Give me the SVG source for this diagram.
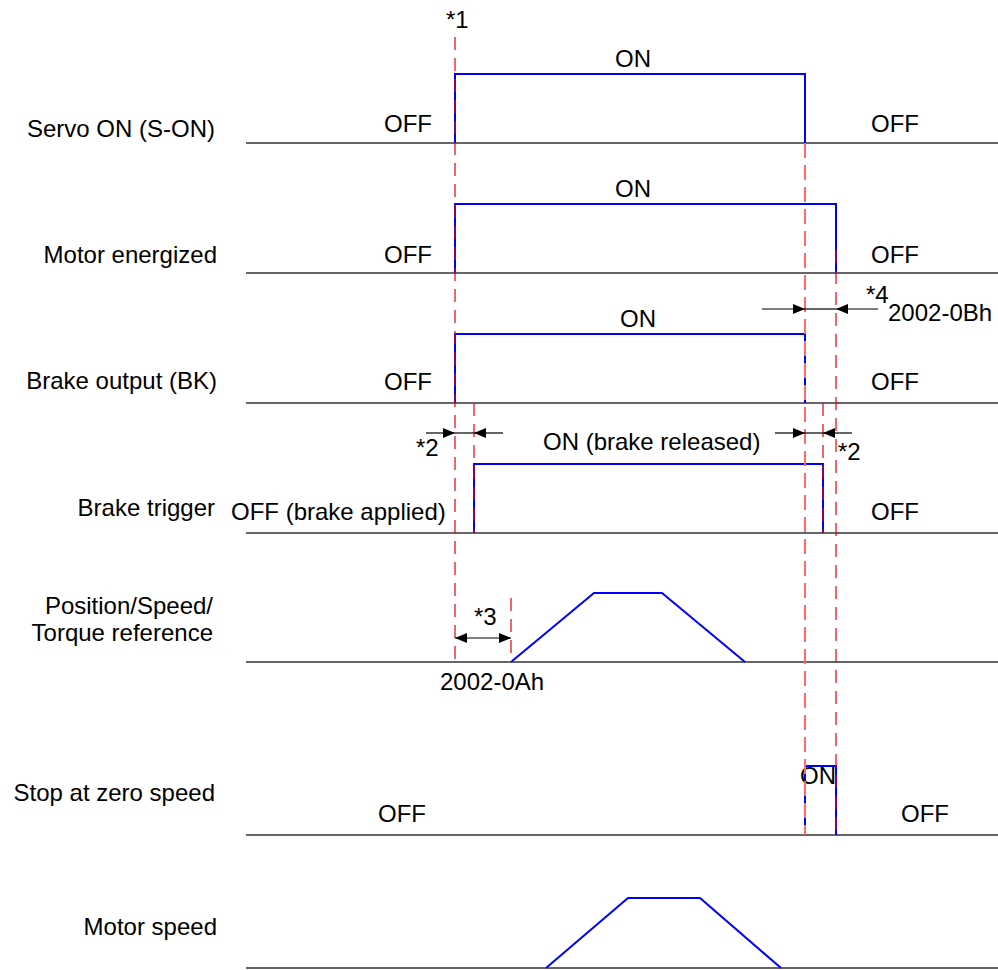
<svg xmlns="http://www.w3.org/2000/svg" width="998" height="970" viewBox="0 0 998 970">
<style>
text{font-family:"Liberation Sans",Arial,sans-serif;font-size:24px;fill:#000}
.lbl{text-anchor:end}
.mid{text-anchor:middle}
.base{stroke:#333;stroke-width:1.5;fill:none}
.sig{stroke:#0000ff;stroke-width:2;fill:none}
.dr{stroke:#e8000b;stroke-width:1.2;stroke-dasharray:13 8;fill:none}
.dp{stroke:#ff6b6b;stroke-width:2;stroke-dasharray:15 7;fill:none}
.arr{stroke:#000;stroke-width:1.2;fill:none}
</style>
<defs>
<marker id="ah" viewBox="0 0 12 10" refX="12" refY="5" markerWidth="12" markerHeight="10" markerUnits="userSpaceOnUse" orient="auto-start-reverse">
<path d="M0,0 L12,5 L0,10 Z" fill="#000"/>
</marker>
</defs>
<rect width="998" height="970" fill="#fff"/>

<g id="servo-on">
<text class="lbl" x="215" y="137">Servo ON (S-ON)</text>
<line class="base" x1="246" y1="143" x2="998" y2="143"/>
<polyline class="sig" points="455,143 455,74 805,74 805,143"/>
<text x="384" y="132">OFF</text>
<text class="mid" x="633" y="67">ON</text>
<text x="871" y="132">OFF</text>
</g>

<g id="motor-energized">
<text class="lbl" x="217" y="263">Motor energized</text>
<line class="base" x1="246" y1="273" x2="998" y2="273"/>
<polyline class="sig" points="455,273 455,204 836,204 836,273"/>
<text x="384" y="263">OFF</text>
<text class="mid" x="633" y="197">ON</text>
<text x="871" y="263">OFF</text>
</g>

<g id="brake-output">
<text class="lbl" x="217" y="389">Brake output (BK)</text>
<line class="base" x1="246" y1="403" x2="998" y2="403"/>
<polyline class="sig" points="455,403 455,334 805,334 805,403"/>
<text x="384" y="390">OFF</text>
<text class="mid" x="638" y="327">ON</text>
<text x="871" y="390">OFF</text>
</g>

<g id="brake-trigger">
<text class="lbl" x="215" y="516">Brake trigger</text>
<line class="base" x1="246" y1="533" x2="998" y2="533"/>
<polyline class="sig" points="474,533 474,464 823,464 823,533"/>
<text x="231" y="520">OFF (brake applied)</text>
<text x="543" y="450">ON (brake released)</text>
<text x="871" y="520">OFF</text>
</g>

<g id="reference">
<text class="lbl" x="213" y="614">Position/Speed/</text>
<text class="lbl" x="213" y="641">Torque reference</text>
<line class="base" x1="246" y1="662" x2="998" y2="662"/>
<polyline class="sig" points="511,662 594,593 662,593 745,662"/>
</g>

<g id="stop-zero-speed">
<text class="lbl" x="215" y="801">Stop at zero speed</text>
<line class="base" x1="246" y1="835" x2="998" y2="835"/>
<polyline class="sig" points="805,835 805,766 836,766 836,835"/>
<text x="800" y="784">ON</text>
<text x="378" y="822">OFF</text>
<text x="901" y="822">OFF</text>
</g>

<g id="motor-speed">
<text class="lbl" x="217" y="935">Motor speed</text>
<line class="base" x1="246" y1="968" x2="998" y2="968"/>
<polyline class="sig" points="546,968 628,898 700,898 781,968"/>
</g>

<g id="connectors">
<line class="dr" x1="455" y1="37" x2="455" y2="665"/>
<line class="dr" x1="474" y1="403" x2="474" y2="533"/>
<line class="dr" x1="511" y1="598" x2="511" y2="662"/>
<line class="dp" x1="805" y1="143" x2="805" y2="835"/>
<line class="dr" x1="823" y1="403" x2="823" y2="533"/>
<line class="dr" x1="836" y1="250" x2="836" y2="835"/>

<line class="arr" x1="762" y1="309" x2="805" y2="309" marker-end="url(#ah)"/>
<line class="arr" x1="805" y1="309" x2="836" y2="309"/>
<line class="arr" x1="878" y1="309" x2="836" y2="309" marker-end="url(#ah)"/>

<line class="arr" x1="426" y1="433" x2="455" y2="433" marker-end="url(#ah)"/>
<line class="arr" x1="455" y1="433" x2="474" y2="433"/>
<line class="arr" x1="503" y1="433" x2="474" y2="433" marker-end="url(#ah)"/>

<line class="arr" x1="775" y1="433" x2="805" y2="433" marker-end="url(#ah)"/>
<line class="arr" x1="805" y1="433" x2="823" y2="433"/>
<line class="arr" x1="852" y1="433" x2="823" y2="433" marker-end="url(#ah)"/>

<line class="arr" x1="455" y1="638" x2="511" y2="638" marker-start="url(#ah)" marker-end="url(#ah)"/>
</g>

<g id="annotations">
<text x="446" y="28">*1</text>
<text x="866" y="303">*4</text>
<text x="888" y="321">2002-0Bh</text>
<text x="416" y="456">*2</text>
<text x="838" y="460">*2</text>
<text x="474" y="625">*3</text>
<text x="440" y="690">2002-0Ah</text>
</g>
</svg>
